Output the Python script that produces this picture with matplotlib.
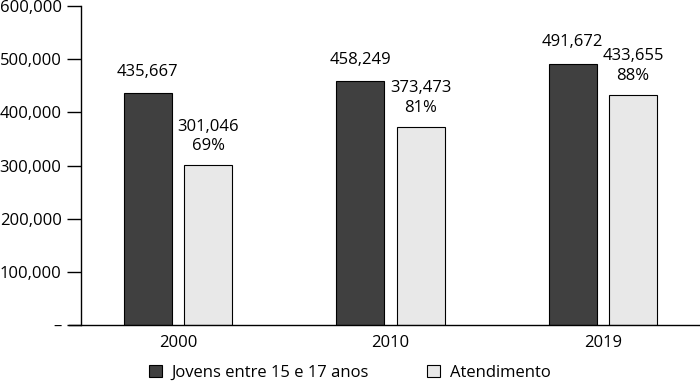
import numpy as np
import matplotlib.pyplot as plt
from matplotlib.ticker import FuncFormatter

plt.rcParams['font.family'] = ['Open Sans', 'DejaVu Sans']

anos = ['2000', '2010', '2019']
jovens = [435667, 458249, 491672]
atendimento = [301046, 373473, 433655]
percentual = ['69%', '81%', '88%']

fig = plt.figure(figsize=(7, 3.85), dpi=100)
ax = fig.add_axes([0.1157, 0.156, 0.884, 0.828])

x = np.arange(len(anos))
w = 0.226
d = 0.142
ax.bar(x - d, jovens, w, color='#404040', edgecolor='black', linewidth=0.8,
       label='Jovens entre 15 e 17 anos')
ax.bar(x + d, atendimento, w, color='#e8e8e8', edgecolor='black', linewidth=0.8,
       label='Atendimento')

for i in range(len(anos)):
    ax.text(x[i] - d, jovens[i] + 25000, f'{jovens[i]:,}', ha='center', va='bottom', fontsize=12)
    ax.text(x[i] + d, atendimento[i] + 20000, f'{atendimento[i]:,}\n{percentual[i]}',
            ha='center', va='bottom', fontsize=12, linespacing=1.3)

ax.set_xlim(-0.4565, 2.456)
ax.set_ylim(0, 600000)
ax.set_yticks(range(0, 600001, 100000))
ax.yaxis.set_major_formatter(FuncFormatter(lambda v, p: '–' if v == 0 else f'{int(v):,}'))
ax.set_xticks(x)
ax.set_xticklabels(anos)
ax.tick_params(axis='y', length=10, width=1, labelsize=12, pad=4)
ax.tick_params(axis='x', length=0, labelsize=12, pad=7)

for s in ['top', 'right']:
    ax.spines[s].set_visible(False)
ax.spines['left'].set_linewidth(1)
ax.spines['bottom'].set_visible(False)
# x axis line extends a bit past the y axis
ax.plot([-0.513, 2.456], [0, 0], color='black', linewidth=1, clip_on=False)

fig.legend(loc='lower center', bbox_to_anchor=(0.5, -0.028), ncol=2, frameon=False,
           fontsize=12, handlelength=0.75, handleheight=0.75, columnspacing=3.5, handletextpad=0.6)

fig.savefig('out.png', dpi=100)
